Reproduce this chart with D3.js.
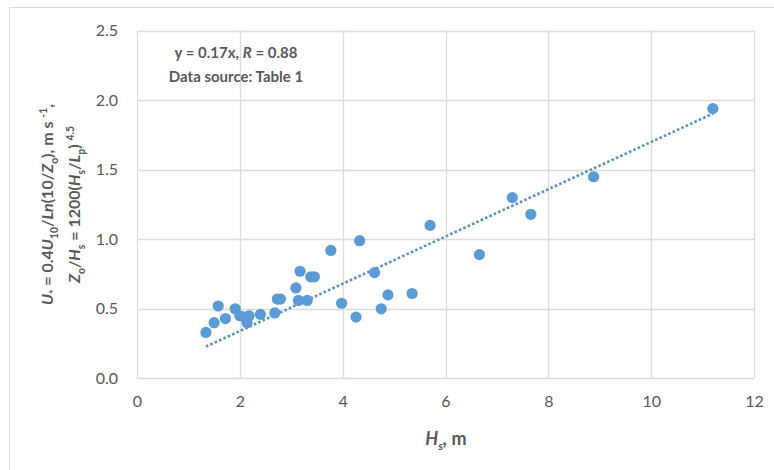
<!DOCTYPE html>
<html>
<head>
<meta charset="utf-8">
<script src="https://cdn.jsdelivr.net/npm/d3@7/dist/d3.min.js"></script>
<style>
  html, body { margin: 0; padding: 0; background: #ffffff; }
  svg { display: block; font-family: Lato, "Open Sans", "DejaVu Sans", sans-serif; }
</style>
</head>
<body>
<svg id="chart" width="774" height="470"></svg>
<script>
// ---- data ----
const hsValues = [1.34, 1.50, 1.58, 1.72, 1.91, 2.00, 2.10, 2.18, 2.14, 2.40, 2.68, 2.73, 2.79,
                  3.09, 3.17, 3.14, 3.31, 3.38, 3.45, 3.77, 3.98, 4.26, 4.33, 4.62, 4.75, 4.88,
                  5.35, 5.70, 6.66, 7.30, 7.66, 8.88, 11.2];
const uValues  = [0.33, 0.40, 0.52, 0.43, 0.50, 0.45, 0.44, 0.45, 0.40, 0.46, 0.47, 0.57, 0.57,
                  0.65, 0.77, 0.56, 0.56, 0.73, 0.73, 0.92, 0.54, 0.44, 0.99, 0.76, 0.50, 0.60,
                  0.61, 1.10, 0.89, 1.30, 1.18, 1.45, 1.94];
const trendSlope = 0.17;
const trendRange = [1.34, 11.2];
const xTicks = [0, 2, 4, 6, 8, 10, 12];
const yTicks = [0.0, 0.5, 1.0, 1.5, 2.0, 2.5];
const xDomain = [0, 12];
const yDomain = [0, 2.5];
const annotationLines = ["y = 0.17x, R = 0.88", "Data source: Table 1"];

// ---- layout ----
const svg = d3.select("#chart");
const plot = { left: 137, right: 754, top: 30.8, bottom: 378.3 };
const x = d3.scaleLinear().domain(xDomain).range([plot.left, plot.right]);
const y = d3.scaleLinear().domain(yDomain).range([plot.bottom, plot.top]);
const gray = "#595959";
const gridColor = "#dcdcdc";
const pointColor = "#5b9bd5";

// outer chart border (only left/top visible in frame)
svg.append("rect").attr("x", 9.5).attr("y", 7.5).attr("width", 800).attr("height", 500)
  .attr("fill", "none").attr("stroke", gridColor).attr("stroke-width", 1);

// gridlines
svg.append("g").selectAll("line.h").data(yTicks).join("line")
  .attr("x1", plot.left).attr("x2", plot.right)
  .attr("y1", d => Math.round(y(d)) + 0.5).attr("y2", d => Math.round(y(d)) + 0.5)
  .attr("stroke", gridColor).attr("stroke-width", 1.3);
svg.append("g").selectAll("line.v").data(xTicks).join("line")
  .attr("y1", plot.top).attr("y2", plot.bottom)
  .attr("x1", d => Math.round(x(d)) + 0.5).attr("x2", d => Math.round(x(d)) + 0.5)
  .attr("stroke", gridColor).attr("stroke-width", 1.3);

// axes (labels only)
const xAxis = d3.axisBottom(x).tickValues(xTicks).tickSize(0).tickPadding(17).tickFormat(d3.format("d"));
const gx = svg.append("g").attr("transform", `translate(0,${plot.bottom})`).call(xAxis);
gx.select(".domain").remove();
gx.selectAll("text").attr("fill", gray).style("font-size", "16px").style("font-family", "Lato, sans-serif");

const yAxis = d3.axisLeft(y).tickValues(yTicks).tickSize(0).tickPadding(19).tickFormat(d3.format(".1f"));
const gy = svg.append("g").attr("transform", `translate(${plot.left},0)`).call(yAxis);
gy.select(".domain").remove();
gy.selectAll("text").attr("fill", gray).style("font-size", "16px").style("font-family", "Lato, sans-serif");

// trendline (dotted)
svg.append("line")
  .attr("x1", x(trendRange[0])).attr("y1", y(trendSlope * trendRange[0]))
  .attr("x2", x(trendRange[1])).attr("y2", y(trendSlope * trendRange[1]))
  .attr("stroke", "#5a8fc4").attr("stroke-width", 2.6)
  .attr("stroke-dasharray", "2.6,2.2");

// points
const pts = hsValues.map((h, i) => ({ h, u: uValues[i] }));
svg.append("g").selectAll("circle").data(pts).join("circle")
  .attr("cx", d => x(d.h)).attr("cy", d => y(d.u)).attr("r", 5.6)
  .attr("fill", pointColor);

// rich text helper
function rich(sel, segs, size) {
  let off = 0;
  segs.forEach(s => {
    const target = s.sub ? size * 0.3 : s.sup ? -size * 0.38 : 0;
    sel.append("tspan").text(s.t)
      .attr("dy", target - off)
      .style("font-size", (s.sub || s.sup) ? (size * 0.65) + "px" : size + "px")
      .style("font-style", s.i ? "italic" : "normal")
      .style("font-weight", s.n ? "normal" : "bold");
    off = target;
  });
}

// annotation
const ann = svg.append("g").attr("fill", gray);
const a1 = ann.append("text").attr("x", 236).attr("y", 58).attr("text-anchor", "middle");
rich(a1, [{ t: "y = 0.17x, " }, { t: "R", i: true }, { t: " = 0.88" }], 15);
const a2 = ann.append("text").attr("x", 236).attr("y", 82).attr("text-anchor", "middle");
rich(a2, [{ t: annotationLines[1] }], 15);

// x axis title
const xt = svg.append("text").attr("x", 446).attr("y", 445)
  .attr("text-anchor", "middle").attr("fill", gray);
rich(xt, [{ t: "H", i: true }, { t: "s", i: true, sub: true }, { t: ",", i: true }, { t: " m" }], 18);

// y axis title (two lines, rotated)
const cy = (plot.top + plot.bottom) / 2;
const yt1 = svg.append("text").attr("transform", `translate(53,${cy}) rotate(-90)`)
  .attr("text-anchor", "middle").attr("fill", gray);
rich(yt1, [
  { t: "U", i: true }, { t: "*", sub: true }, { t: " = 0.4" }, { t: "U", i: true }, { t: "10", sub: true },
  { t: "/" }, { t: "Ln", i: true }, { t: "(10/" }, { t: "Z", i: true }, { t: "o", sub: true },
  { t: "), m s " }, { t: "-1", sup: true }, { t: "," }
], 16);
const yt2 = svg.append("text").attr("transform", `translate(80,${cy}) rotate(-90)`)
  .attr("text-anchor", "middle").attr("fill", gray);
rich(yt2, [
  { t: "Z", i: true }, { t: "o", sub: true }, { t: "/" }, { t: "H", i: true }, { t: "s", sub: true },
  { t: " = 1200(" }, { t: "H", i: true }, { t: "s", sub: true }, { t: "/" }, { t: "L", i: true },
  { t: "p", sub: true }, { t: ") " }, { t: "4.5", sup: true }
], 16);
</script>
</body>
</html>
